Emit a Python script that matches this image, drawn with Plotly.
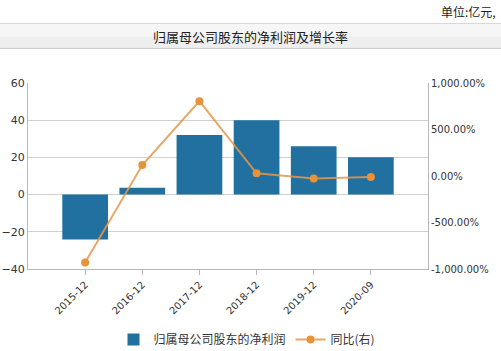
import plotly.graph_objects as go

categories = ["2015-12", "2016-12", "2017-12", "2018-12", "2019-12", "2020-09"]
net_profit = [-24.2, 3.7, 32.0, 40.0, 26.0, 20.1]
yoy_pct = [-930, 118, 805, 29, -28, -11]
left_ticks = [-40, -20, 0, 20, 40, 60]
right_ticks = [-1000, -500, 0, 500, 1000]
right_tick_labels = [f"{v:,.2f}%" for v in right_ticks]

bar_name = "归属母公司股东的净利润"
line_name = "同比(右)"
title_text = "归属母公司股东的净利润及增长率"
unit_text = "单位:亿元,"

W, H = 501, 351
L, R, T, B = 28, 428, 82.7, 269.3

def px_x(px):
    return (px - L) / (R - L)

def px_y(py):
    return (B - py) / (B - T)

BAR_COLOR = "#21709f"
LINE_COLOR = "#e8923a"
TEXT = "#333333"
GRID = "#d0d0d0"
AXIS = "#b8b8b8"

fig = go.Figure()
fig.add_trace(go.Bar(
    x=categories, y=net_profit, name=bar_name,
    marker=dict(color=BAR_COLOR, line=dict(width=0)), width=0.8,
))
fig.add_trace(go.Scatter(
    x=categories, y=yoy_pct, name=line_name, yaxis="y2",
    mode="lines+markers",
    line=dict(color="rgba(228,152,75,0.85)", width=2),
    marker=dict(color=LINE_COLOR, size=8),
))

fig.update_layout(
    width=W, height=H,
    margin=dict(l=L, r=W - R, t=T, b=H - B, pad=0, autoexpand=False),
    paper_bgcolor="white", plot_bgcolor="white",
    font=dict(family="DejaVu Sans", color=TEXT, size=11),
    showlegend=True,
    legend=dict(
        orientation="h", xanchor="center", yanchor="middle",
        x=px_x(247), y=px_y(340),
        font=dict(family="Noto Sans CJK SC", size=12, color=TEXT),
        itemwidth=30, bgcolor="rgba(0,0,0,0)",
    ),
    bargap=0.2,
    xaxis=dict(
        type="category", range=[-1, len(categories)], automargin=False,
        showgrid=False, showline=True, linecolor=AXIS, linewidth=1,
        ticks="outside", ticklen=5, tickcolor=AXIS,
        tickangle=-45, tickfont=dict(size=10, family="DejaVu Sans", color=TEXT),
        zeroline=False,
    ),
    yaxis=dict(
        range=[left_ticks[0], left_ticks[-1]], tickvals=left_ticks, automargin=False,
        showgrid=True, gridcolor=GRID, gridwidth=1,
        showline=True, linecolor=AXIS, linewidth=1,
        zeroline=True, zerolinecolor=GRID, zerolinewidth=1,
        tickfont=dict(size=11, family="DejaVu Sans", color=TEXT),
        ticks="",
    ),
    yaxis2=dict(
        overlaying="y", side="right", automargin=False,
        range=[right_ticks[0], right_ticks[-1]],
        tickvals=right_ticks, ticktext=right_tick_labels,
        showgrid=False, zeroline=False,
        showline=True, linecolor=AXIS, linewidth=1,
        tickfont=dict(size=10, family="DejaVu Sans", color=TEXT),
    ),
)

# title band
fig.add_shape(type="rect", xref="paper", yref="paper",
              x0=px_x(0), x1=px_x(W), y0=px_y(48), y1=px_y(23),
              fillcolor="#eeeeee", line=dict(width=0), layer="below")
fig.add_shape(type="rect", xref="paper", yref="paper",
              x0=px_x(0), x1=px_x(W), y0=px_y(36), y1=px_y(23),
              fillcolor="#f6f6f6", line=dict(width=0), layer="below")
for yy, c in [(23, "#d8d8d8"), (48, "#c8c8c8")]:
    fig.add_shape(type="line", xref="paper", yref="paper",
                  x0=px_x(0), x1=px_x(W), y0=px_y(yy), y1=px_y(yy),
                  line=dict(color=c, width=1))

fig.add_annotation(text=title_text, xref="paper", yref="paper",
                   x=px_x(250), y=px_y(36), xanchor="center", yanchor="middle",
                   showarrow=False,
                   font=dict(family="Noto Sans CJK SC", size=13, color="#222222"))
fig.add_annotation(text=unit_text, xref="paper", yref="paper",
                   x=px_x(498), y=px_y(11), xanchor="right", yanchor="middle",
                   showarrow=False,
                   font=dict(family="Noto Sans CJK SC", size=12, color="#222222"))

fig.write_html("out.html")
